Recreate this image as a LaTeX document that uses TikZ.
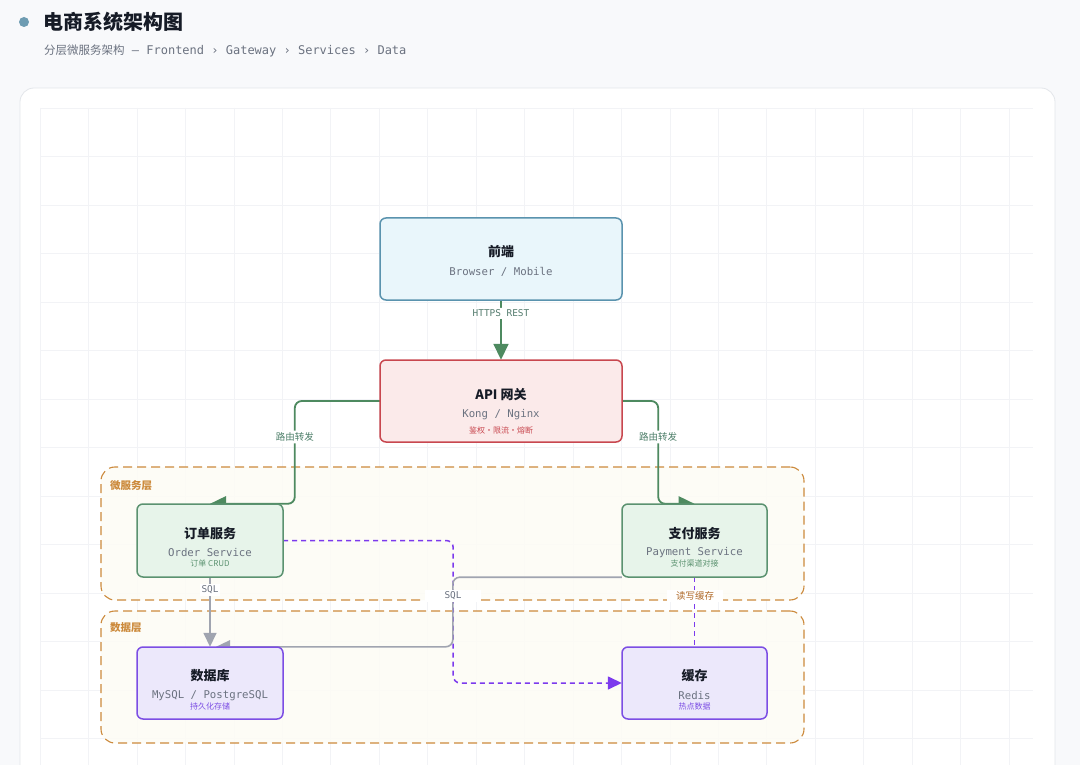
\documentclass[tikz,border=0pt]{standalone}
\usepackage{fontspec}
\setmainfont{Noto Sans CJK SC}
\setmonofont{DejaVu Sans Mono}
\usetikzlibrary{arrows.meta,calc}
\definecolor{pagebg}{HTML}{F8F9FB}
\definecolor{cardline}{HTML}{E3E6EA}
\definecolor{gridc}{HTML}{F2F3F6}
\definecolor{titlec}{HTML}{161B26}
\definecolor{subc}{HTML}{6B7280}
\definecolor{dotc}{HTML}{6E9CB2}
\definecolor{bluel}{HTML}{5A93AE}\definecolor{bluef}{HTML}{E9F6FB}
\definecolor{redl}{HTML}{C8474F}\definecolor{redf}{HTML}{FBEAEA}
\definecolor{greenl}{HTML}{5B9270}\definecolor{greenf}{HTML}{E7F4EA}
\definecolor{purl}{HTML}{7C4EE4}\definecolor{purf}{HTML}{ECE8FB}
\definecolor{orl}{HTML}{CC8A3C}\definecolor{orf}{HTML}{FDFCF5}
\definecolor{edgegreen}{HTML}{4E8A60}
\definecolor{edgegray}{HTML}{A0A4B0}
\definecolor{edgepur}{HTML}{7C3AED}
\definecolor{lblgreen}{HTML}{4E7F6A}
\definecolor{lblor}{HTML}{B06A2A}
\tikzset{
  box/.style={draw, rounded corners=6pt, line width=1.5pt, inner sep=0pt},
  grp/.style={draw=orl, fill=orf, fill opacity=0.85, dash pattern=on 9pt off 5pt, line width=1.1pt, rounded corners=14pt},
  ttl/.style={font=\bfseries\fontsize{13}{15}\selectfont, text=titlec, inner sep=0pt},
  sub/.style={font=\ttfamily\fontsize{10.7}{12}\selectfont, text=subc, inner sep=0pt},
  tiny/.style={font=\fontsize{8}{9}\selectfont, inner sep=0pt},
  elbl/.style={fill=white, inner sep=2pt, font=\fontsize{9.5}{11}\selectfont},
  mlbl/.style={fill=white, inner sep=2pt, font=\ttfamily\fontsize{9.4}{11}\selectfont, text=subc},
  gedge/.style={draw=edgegreen, line width=1.8pt, rounded corners=7pt, -{Triangle[length=16pt,width=15pt]}},
  grayedge/.style={draw=edgegray, line width=1.6pt, rounded corners=7pt, -{Triangle[length=14pt,width=13pt]}},
  pedge/.style={draw=edgepur, line width=1.5pt, dash pattern=on 5pt off 4pt, rounded corners=7pt},
}
\begin{document}
\begin{tikzpicture}[x=1pt,y=-1pt]
\useasboundingbox (0,0) rectangle (1080,765);
\fill[pagebg] (0,0) rectangle (1080,765);
% card
\draw[cardline, fill=white, line width=0.8pt, rounded corners=14pt] (20,88) rectangle (1055,790);
% grid
\foreach \i in {0,...,20} {\draw[gridc, line width=0.6pt] ({40+48.45*\i},108) -- ({40+48.45*\i},765);}
\foreach \j in {0,...,13} {\draw[gridc, line width=0.6pt] (40,{108+48.5*\j}) -- (1033,{108+48.5*\j});}
% header
\fill[dotc] (24,22) circle (5);
\node[anchor=west, inner sep=0pt, font=\bfseries\fontsize{20}{22}\selectfont, text=titlec] (title) at (43,22) {电商系统架构图};
\node[anchor=west, inner sep=0pt, text=subc] (subtitle) at (44,51) {\fontsize{11.5}{13}\selectfont 分层微服务架构\ttfamily\fontsize{12}{13}\selectfont{} — Frontend › Gateway › Services › Data};
% groups
\node[grp, minimum width=703pt, minimum height=133pt] (msl) at (452.5,533.5) {};
\node[anchor=west, inner sep=0pt, text=orl, font=\bfseries\fontsize{10.5}{12}\selectfont] (msllbl) at (110,486) {微服务层};
\node[grp, minimum width=703pt, minimum height=132pt] (dl) at (452.5,677) {};
\node[anchor=west, inner sep=0pt, text=orl, font=\bfseries\fontsize{10.5}{12}\selectfont] (dllbl) at (110,628) {数据层};
% centres
\coordinate (fec) at (501,259);
\coordinate (gwc) at (501,401);
\coordinate (osc) at (210,540.5);
\coordinate (psc) at (694.5,540.5);
\coordinate (dbc) at (210,683);
\coordinate (cac) at (694.5,683);
% invisible geometry nodes for anchors
\node[minimum width=242pt, minimum height=82pt, inner sep=0pt] (fe0) at (fec) {};
\node[minimum width=242pt, minimum height=82pt, inner sep=0pt] (gw0) at (gwc) {};
\node[minimum width=146pt, minimum height=73pt, inner sep=0pt] (os0) at (osc) {};
\node[minimum width=145pt, minimum height=73pt, inner sep=0pt] (ps0) at (psc) {};
\node[minimum width=146pt, minimum height=72pt, inner sep=0pt] (db0) at (dbc) {};
\node[minimum width=145pt, minimum height=72pt, inner sep=0pt] (ca0) at (cac) {};
% edges
\draw[gedge] (fe0.south) -- (gw0.north) node[pos=0.22, mlbl, text=lblgreen!80!subc] {HTTPS REST};
\draw[gedge] (gw0.west) -- ++(-85,0) |- (os0.north) node[pos=0.175, elbl, text=lblgreen] {路由转发};
\draw[gedge] (gw0.east) -- ++(36,0) |- (ps0.north) node[pos=0.175, elbl, text=lblgreen] {路由转发};
\draw[pedge] (os0.east) -- ++(170,0) |- (ca0.west);
\draw[draw=edgepur, line width=1.5pt, -{Triangle[length=14pt,width=13pt]}] ($(ca0.west)+(-14,0)$) -- (ca0.west);
\draw[pedge] (ps0.south) -- (ca0.north);
\draw[grayedge] (ps0.south west) -- ++(-169,0) |- ([xshift=6pt]db0.north);
\draw[grayedge] (os0.south) -- (db0.north);
\node[mlbl, minimum width=56pt] (sql2) at (453,596) {SQL};
\node[mlbl] (sql1) at (210,590) {SQL};
\node[elbl, text=lblor, minimum width=56pt] (rw) at (695,596) {读写缓存};
% boxes
\node[box, draw=bluel, fill=bluef, minimum width=242pt, minimum height=82pt] (fe) at (fec) {};
\node[ttl] at (501,252) {前端};
\node[sub] at (501,272) {Browser / Mobile};
\node[box, draw=redl, fill=redf, minimum width=242pt, minimum height=82pt] (gw) at (gwc) {};
\node[ttl] at (501,395) {API 网关};
\node[sub] at (501,415) {Kong / Nginx};
\node[tiny, text=redl] at (501,430) {鉴权·限流·熔断};
\node[box, draw=greenl, fill=greenf, minimum width=146pt, minimum height=73pt] (os) at (osc) {};
\node[ttl] at (210,534) {订单服务};
\node[sub] at (210,553) {Order Service};
\node[tiny, text=greenl] at (210,563) {订单 CRUD};
\node[box, draw=greenl, fill=greenf, minimum width=145pt, minimum height=73pt] (ps) at (psc) {};
\node[ttl] at (694.5,534) {支付服务};
\node[sub] at (694.5,553) {Payment Service};
\node[tiny, text=greenl] at (694.5,563) {支付渠道对接};
\node[box, draw=purl, fill=purf, minimum width=146pt, minimum height=72pt] (db) at (dbc) {};
\node[ttl] at (210,676) {数据库};
\node[sub] at (210,696) {MySQL / PostgreSQL};
\node[tiny, text=purl] at (210,706) {持久化存储};
\node[box, draw=purl, fill=purf, minimum width=145pt, minimum height=72pt] (ca) at (cac) {};
\node[ttl] at (694.5,676) {缓存};
\node[sub] at (694.5,696) {Redis};
\node[tiny, text=purl] at (694.5,706) {热点数据};
\end{tikzpicture}
\end{document}
